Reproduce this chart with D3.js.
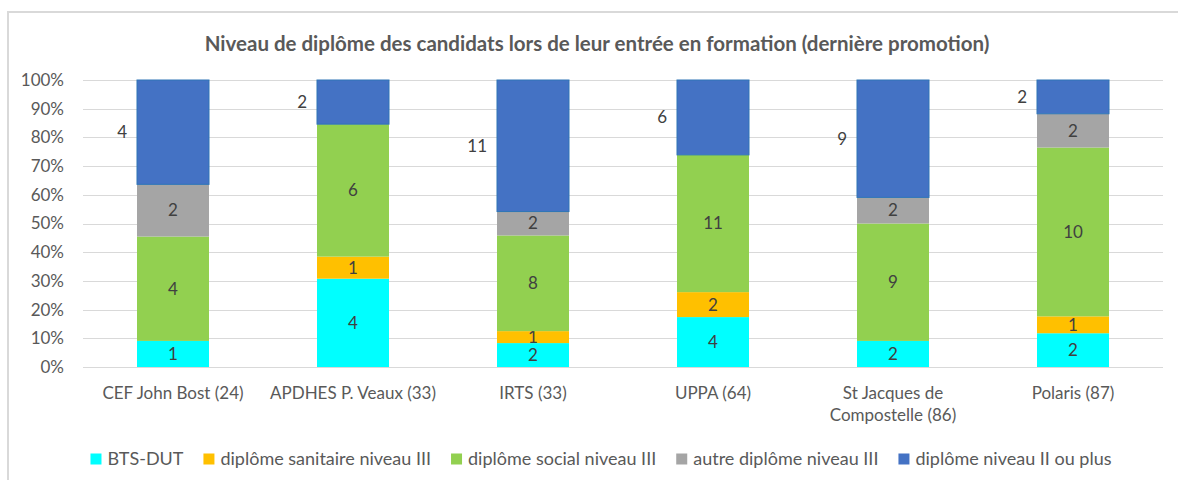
<!DOCTYPE html>
<html>
<head>
<meta charset="utf-8">
<script src="https://d3js.org/d3.v7.min.js"></script>
<style>
  body { margin: 0; background: #fff; }
  text { font-family: Lato, "Open Sans", sans-serif; }
</style>
</head>
<body>
<div id="chart"></div>
<script>

// data
var categories = ["CEF John Bost (24)", "APDHES P. Veaux (33)", "IRTS (33)", "UPPA (64)", "St Jacques de Compostelle (86)", "Polaris (87)"];
var seriesNames = ["BTS-DUT", "diplôme sanitaire niveau III", "diplôme social niveau III", "autre diplôme niveau III", "diplôme niveau II ou plus"];
var btsDut    = [1, 4, 2, 4, 2, 2];
var sanitaire = [0, 1, 1, 2, 0, 1];
var social    = [4, 6, 8, 11, 9, 10];
var autre     = [2, 0, 2, 0, 2, 2];
var niveauII  = [4, 2, 11, 6, 9, 2];
var yTicks = [0, 0.1, 0.2, 0.3, 0.4, 0.5, 0.6, 0.7, 0.8, 0.9, 1];
var colors = ["#00FFFF", "#FFC000", "#92D050", "#A5A5A5", "#4472C4"];

var W = 1178, H = 480;
var margin = {top: 80, right: 15, bottom: 113, left: 83},
    width = 1163 - margin.left,
    height = 367 - margin.top;

var svg = d3.select("#chart")
  .append("svg")
    .attr("width", W)
    .attr("height", H);

// outer frame of the chart
svg.append("rect")
  .attr("x", 8).attr("y", 12)
  .attr("width", W + 20).attr("height", H + 20)
  .attr("fill", "none")
  .attr("stroke", "#D9D9D9")
  .attr("stroke-width", 2);

// title
svg.append("text")
  .attr("x", 597)
  .attr("y", 51)
  .attr("font-weight", "bold")
  .attr("font-size", "20.5px")
  .attr("fill", "#595959")
  .style("text-anchor", "middle")
  .text("Niveau de diplôme des candidats lors de leur entrée en formation (dernière promotion)");

var g = svg.append("g")
  .attr("transform", "translate(" + margin.left + "," + margin.top + ")");

// build a table for the stack
var allSeries = [btsDut, sanitaire, social, autre, niveauII];
var table = categories.map(function(c, i) {
  var row = {cat: c};
  var total = 0;
  seriesNames.forEach(function(s, j) { row[s] = allSeries[j][i]; total += allSeries[j][i]; });
  row.total = total;
  return row;
});

var stack = d3.stack()
  .keys(seriesNames)
  .value(function(d, key) { return d[key] / d.total; });
var stacked = stack(table);

var x = d3.scaleBand()
  .domain(categories)
  .range([0, width])
  .paddingInner(0.6)
  .paddingOuter(0.3);

var y = d3.scaleLinear()
  .domain([0, 1])
  .range([height, 0]);

// gridlines
g.selectAll(".grid").data(yTicks)
  .enter().append("line")
    .attr("x1", 0).attr("x2", width)
    .attr("y1", function(d) { return Math.round(y(d)) + 0.5; })
    .attr("y2", function(d) { return Math.round(y(d)) + 0.5; })
    .attr("stroke", "#D9D9D9")
    .attr("stroke-width", 1);

// y axis labels
var yAxis = g.append("g")
  .attr("transform", "translate(-16,0)")
  .call(d3.axisLeft(y).tickValues(yTicks).tickFormat(d3.format(".0%")).tickSize(0));
yAxis.select(".domain").remove();
yAxis.selectAll("text")
  .attr("font-size", "17px")
  .attr("font-family", "Lato, sans-serif")
  .attr("fill", "#595959");

// bars
var layer = g.selectAll(".layer").data(stacked)
  .enter().append("g")
    .attr("class", "layer")
    .attr("fill", function(d, i) { return colors[i]; });

layer.selectAll("rect")
  .data(function(d) { return d.map(function(p) { return {p: p, key: d.key, index: d.index}; }); })
  .enter().append("rect")
    .filter(function(d) { return d.p[1] - d.p[0] > 0; })
    .attr("x", function(d) { return x(d.p.data.cat); })
    .attr("y", function(d) { return y(d.p[1]); })
    .attr("width", x.bandwidth())
    .attr("height", function(d) { return y(d.p[0]) - y(d.p[1]); })
    .attr("stroke", function(d) { return d.index == 4 ? "#2E75B6" : "none"; })
    .attr("stroke-width", 1);

// data labels (top series sits outside, left of the bar)
layer.selectAll(".lbl")
  .data(function(d) { return d.map(function(p) { return {p: p, key: d.key, index: d.index}; }); })
  .enter().append("text")
    .filter(function(d) { return d.p[1] - d.p[0] > 0; })
    .attr("x", function(d) {
      return d.index == 4 ? x(d.p.data.cat) - 10 : x(d.p.data.cat) + x.bandwidth() / 2;
    })
    .attr("y", function(d) { return (y(d.p[0]) + y(d.p[1])) / 2; })
    .attr("dy", "0.35em")
    .attr("font-size", "17px")
    .attr("fill", "#404040")
    .style("text-anchor", function(d) { return d.index == 4 ? "end" : "middle"; })
    .text(function(d) { return d.p.data[d.key]; });

// category labels, wrapped like the original
var catLines = {"St Jacques de Compostelle (86)": ["St Jacques de", "Compostelle (86)"]};
var xl = g.selectAll(".xl").data(categories)
  .enter().append("text")
    .attr("x", function(d) { return x(d) + x.bandwidth() / 2; })
    .attr("y", height + 32)
    .attr("font-size", "17px")
    .attr("fill", "#595959")
    .style("text-anchor", "middle");
xl.each(function(d) {
  var lines = catLines[d] || [d];
  var t = d3.select(this);
  lines.forEach(function(l, i) {
    t.append("tspan")
      .attr("x", x(d) + x.bandwidth() / 2)
      .attr("dy", i == 0 ? 0 : 22)
      .text(l);
  });
});

// legend
var legend = svg.append("g");
var pos = 0;
seriesNames.forEach(function(s, i) {
  var item = legend.append("g").attr("transform", "translate(" + pos + ",0)");
  item.append("rect")
    .attr("x", 0).attr("y", -5.5)
    .attr("width", 11).attr("height", 11)
    .attr("fill", colors[i]);
  var t = item.append("text")
    .attr("x", 17).attr("y", 0)
    .attr("dy", "0.35em")
    .attr("font-size", "18px")
    .attr("fill", "#595959")
    .text(s);
  pos += 17 + t.node().getComputedTextLength() + 20;
});
var legendWidth = pos - 20;
legend.attr("transform", "translate(" + (601 - legendWidth / 2) + ",459)");

</script>
</body>
</html>
